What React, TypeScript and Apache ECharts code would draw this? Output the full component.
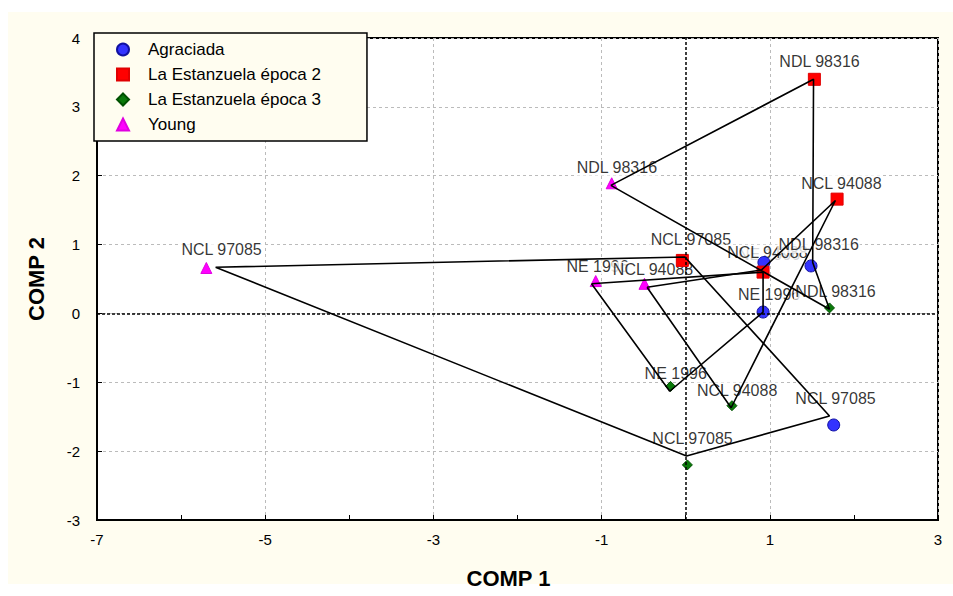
import React, { useEffect, useRef } from "react";
import * as echarts from "echarts";

// Varieties (same order in every group array)
const varieties = ["NCL 97085", "NE 1996", "NCL 94088", "NDL 98316"];

// Marker positions per group: [COMP 1, COMP 2]
const agraciada = [[1.76, -1.62], [0.92, 0.02], [0.93, 0.74], [1.49, 0.69]];
const estanzuela2 = [[-0.04, 0.77], [0.92, 0.6], [1.8, 1.66], [1.53, 3.4]];
const estanzuela3 = [[0.02, -2.2], [-0.18, -1.06], [0.55, -1.34], [1.71, 0.08]];
const young = [[-5.7, 0.66], [-1.07, 0.47], [-0.49, 0.43], [-0.88, 1.89]];

// Connecting polygons per variety (vertices)
const pathNCL97085 = [[-5.59, 0.67], [-0.01, 0.82], [1.71, -1.49], [0.01, -2.07]];
const pathNE1996 = [[-1.12, 0.43], [0.92, 0.6], [0.92, 0.02], [-0.19, -1.13]];
const pathNCL94088 = [[-0.46, 0.38], [0.9, 0.63], [1.78, 1.64], [0.54, -1.37]];
const pathNDL98316 = [[-0.89, 1.86], [1.52, 3.4], [1.51, 0.74], [1.71, 0.06]];

const groupNames = ["Agraciada", "La Estanzuela época 2", "La Estanzuela época 3", "Young"];

const xTicks = { min: -7, max: 3, interval: 2 };
const yTicks = { min: -3, max: 4, interval: 1 };

const FONT = "'Liberation Sans', Arial, sans-serif";

export default function App() {
  const ref = useRef<HTMLDivElement>(null);
  useEffect(() => {
    const chart = echarts.init(ref.current!, null, { renderer: "svg" });
    const paths = [pathNCL97085, pathNE1996, pathNCL94088, pathNDL98316];
    const labelData: any[] = [];
    paths.forEach((p, i) => p.forEach((v) => labelData.push({ name: varieties[i], value: v })));

    const groups = [
      { data: agraciada, symbol: "circle", size: 12, color: "#3333FF", border: "#1010A0" },
      { data: estanzuela2, symbol: "rect", size: 12, color: "#FF0000", border: "#E00000" },
      { data: estanzuela3, symbol: "diamond", size: 10, color: "#0A7A0A", border: "#005000" },
      { data: young, symbol: "triangle", size: 11, color: "#FF00FF", border: "#E000E0" },
    ];

    const option: any = {
      animation: false,
      textStyle: { fontFamily: FONT },
      graphic: [
        {
          type: "rect",
          z: -10,
          silent: true,
          shape: { x: 8, y: 12, width: 945, height: 572 },
          style: { fill: "#FFFDF0" },
        },
      ],
      grid: {
        left: 97,
        top: 38,
        width: 841,
        height: 482,
        show: true,
        backgroundColor: "#FFFFFF",
        borderColor: "#000",
        borderWidth: 2,
      },
      legend: {
        data: groupNames,
        orient: "vertical",
        left: 94,
        top: 33,
        selectedMode: false,
        backgroundColor: "#FFFDF0",
        borderColor: "#000",
        borderWidth: 1.5,
        padding: [8, 46, 8, 22],
        itemWidth: 12,
        itemHeight: 12,
        itemGap: 8,
        textStyle: { fontSize: 17, color: "#000", fontFamily: FONT, padding: [0, 0, 0, 14], lineHeight: 17 },
      },
      xAxis: {
        type: "value",
        min: xTicks.min,
        max: xTicks.max,
        interval: xTicks.interval,
        axisLine: { show: true, onZero: false, lineStyle: { color: "#000", width: 2 } },
        axisTick: { show: true, inside: true, length: 5, lineStyle: { color: "#000" } },
        minorTick: { show: true, splitNumber: 2, length: 5, lineStyle: { color: "#000" } },
        splitLine: { show: true, lineStyle: { color: "#BBBBBB", type: [3, 3], width: 1 } },
        axisLabel: { margin: 12, fontSize: 15, color: "#000", fontFamily: FONT },
        name: "COMP 1",
        nameLocation: "middle",
        nameGap: 47,
        nameTextStyle: {
          fontSize: 22,
          fontWeight: "bold",
          color: "#000",
          fontFamily: FONT,
          padding: [0, 18, 0, 0],
        },
      },
      yAxis: {
        type: "value",
        min: yTicks.min,
        max: yTicks.max,
        interval: yTicks.interval,
        axisLine: { show: true, onZero: false, lineStyle: { color: "#000", width: 2 } },
        axisTick: { show: true, inside: true, length: 5, lineStyle: { color: "#000" } },
        splitLine: { show: true, lineStyle: { color: "#BBBBBB", type: [3, 3], width: 1 } },
        axisLabel: { margin: 17, fontSize: 15, color: "#000", fontFamily: FONT },
        name: "COMP 2",
        nameLocation: "middle",
        nameGap: 50,
        nameTextStyle: { fontSize: 22, fontWeight: "bold", color: "#000", fontFamily: FONT },
      },
      series: [
        {
          type: "scatter",
          name: "labels",
          z: 2,
          symbolSize: 1,
          itemStyle: { color: "rgba(0,0,0,0)" },
          data: labelData,
          label: {
            show: true,
            formatter: "{b}",
            position: "top",
            distance: 9,
            offset: [6, 0],
            fontSize: 16,
            color: "#000",
            fontFamily: FONT,
            backgroundColor: "#FFFFFF",
            padding: [0, 1],
          },
          markLine: {
            silent: true,
            symbol: "none",
            label: { show: false },
            lineStyle: { color: "#000", type: [3, 2], width: 1.5 },
            data: [{ xAxis: 0 }, { yAxis: 0 }],
          },
        },
        ...groups.map((g, i) => ({
          type: "scatter",
          name: groupNames[i],
          z: 3,
          symbol: g.symbol,
          symbolSize: g.size,
          itemStyle: { color: g.color, borderColor: g.border, borderWidth: 1, opacity: 1 },
          data: g.data.map((v, j) => ({ name: varieties[j], value: v })),
        })),
        ...paths.map((p, i) => ({
          type: "line",
          name: "path " + varieties[i],
          z: 4,
          symbol: "none",
          lineStyle: { color: "#000", width: 1.6 },
          data: [...p, p[0]],
        })),
      ],
    };
    chart.setOption(option);
    return () => chart.dispose();
  }, []);
  return (
    <div
      ref={ref}
      style={{ position: "absolute", left: 0, top: 0, width: 953, height: 596, background: "#FFFFFF" }}
    />
  );
}
